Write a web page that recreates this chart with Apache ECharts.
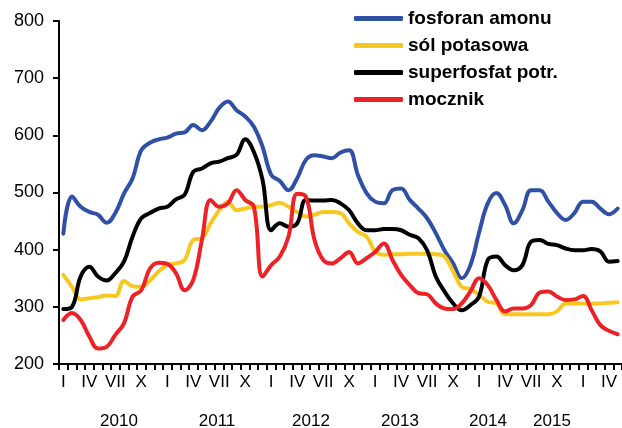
<!DOCTYPE html>
<html>
<head>
<meta charset="utf-8">
<script src="https://cdn.jsdelivr.net/npm/echarts@6/dist/echarts.min.js"></script>
<style>
  html, body { margin: 0; padding: 0; background: #fff; }
  #chart { width: 622px; height: 428px; }
</style>
</head>
<body>
<div id="chart"></div>
<script>
// Monthly fertilizer prices, January 2010 – May 2015
const monthNumerals = ['I','II','III','IV','V','VI','VII','VIII','IX','X','XI','XII'];
const monthCount = 65;

const fosforanAmonu = [
  428, 493, 475, 466, 461, 447, 464, 498, 525, 574, 587, 593, 596, 603, 605, 618,
  609, 624, 648, 659, 644, 633, 615, 580, 531, 520, 504, 525, 557, 565, 563, 560,
  570, 574, 531, 499, 484, 481, 504, 507, 487, 472, 455, 429, 399, 376, 350, 373,
  430, 481, 499, 478, 446, 469, 504, 504, 484, 464, 452, 464, 484, 484, 472, 462, 472
];
const solPotasowa = [
  356, 335, 313, 315, 317, 320, 319, 345, 336, 335, 346, 362, 373, 376, 382, 417,
  420, 446, 469, 484, 469, 472, 475, 475, 478, 482, 475, 466, 458, 461, 466, 466,
  464, 446, 431, 423, 397, 391, 392, 392, 393, 393, 393, 392, 388, 362, 335, 331,
  321, 309, 306, 287, 287, 287, 287, 287, 287, 292, 306, 306, 306, 306, 306, 307, 308
];
const superfosfatPotr = [
  296, 300, 353, 370, 353, 346, 359, 379, 423, 455, 464, 472, 475, 488, 496, 536,
  542, 551, 554, 560, 566, 593, 571, 522, 434, 446, 440, 446, 487, 486, 486, 487,
  481, 469, 446, 434, 434, 436, 436, 434, 426, 420, 399, 353, 327, 306, 294, 303,
  318, 382, 388, 373, 364, 373, 414, 417, 410, 408, 402, 399, 399, 401, 397, 379, 380
];
const mocznik = [
  277, 289, 277, 248, 227, 230, 251, 271, 318, 329, 367, 377, 375, 359, 329, 347,
  417, 487, 475, 481, 504, 487, 475, 353, 373, 388, 423, 498, 493, 417, 382, 376,
  385, 396, 376, 385, 396, 411, 382, 356, 338, 324, 322, 306, 297, 296, 306, 327,
  350, 338, 312, 292, 297, 297, 303, 325, 327, 318, 312, 313, 319, 294, 268, 258, 252
];

const seriesNames = ['fosforan amonu', 'sól potasowa', 'superfosfat potr.', 'mocznik'];
const seriesColors = ['#2f50a4', '#f8c822', '#000000', '#ec2227'];
const seriesValues = [fosforanAmonu, solPotasowa, superfosfatPotr, mocznik];

const yearLabels = ['2010', '2011', '2012', '2013', '2014', '2015'];
const yearLabelCenters = [119, 217, 311, 400, 488, 552];

const yTicks = { min: 200, max: 800, step: 100 };

// one category per month, labelled by its Roman numeral
const categories = [];
for (let i = 0; i < monthCount; i++) {
  categories.push(monthNumerals[i % 12]);
}

const font = '"Liberation Sans", Arial, sans-serif';

const chart = echarts.init(document.getElementById('chart'), null, { renderer: 'canvas' });

chart.setOption({
  animation: false,
  backgroundColor: '#ffffff',
  textStyle: { fontFamily: font },
  grid: { left: 59, top: 21, width: 564.4, height: 343, containLabel: false },
  legend: {
    orient: 'vertical',
    left: 349,
    top: 4,
    itemWidth: 49,
    itemHeight: 5,
    itemGap: 8,
    icon: 'roundRect',
    textStyle: { fontFamily: font, fontSize: 19, fontWeight: 'bold', color: '#000', lineHeight: 19 },
    data: seriesNames
  },
  xAxis: {
    type: 'category',
    data: categories,
    boundaryGap: true,
    axisLine: { lineStyle: { color: '#000', width: 2 } },
    axisTick: { show: true, interval: 0, length: 6, lineStyle: { color: '#000', width: 2 } },
    axisLabel: {
      interval: function (index) { return index % 3 === 0; },
      color: '#000',
      fontSize: 17,
      fontFamily: font,
      margin: 10
    },
    splitLine: { show: false }
  },
  yAxis: {
    type: 'value',
    min: yTicks.min,
    max: yTicks.max,
    interval: yTicks.step,
    axisLine: { show: true, lineStyle: { color: '#000', width: 2 } },
    axisTick: { show: true, length: 6, lineStyle: { color: '#000', width: 2 } },
    axisLabel: { color: '#000', fontSize: 18, fontFamily: font, margin: 15 },
    splitLine: { show: false }
  },
  series: seriesValues.map(function (values, k) {
    return {
      name: seriesNames[k],
      type: 'line',
      data: values,
      smooth: 0.4,
      showSymbol: false,
      symbol: 'none',
      color: seriesColors[k],
      lineStyle: { color: seriesColors[k], width: 4, cap: 'round', join: 'round' },
      z: 2 + k
    };
  }),
  graphic: yearLabels.map(function (label, k) {
    return {
      type: 'text',
      x: yearLabelCenters[k],
      y: 421,
      style: {
        text: label,
        fontSize: 17,
        fontFamily: font,
        fill: '#000',
        align: 'center',
        verticalAlign: 'middle'
      }
    };
  })
});
</script>
</body>
</html>
